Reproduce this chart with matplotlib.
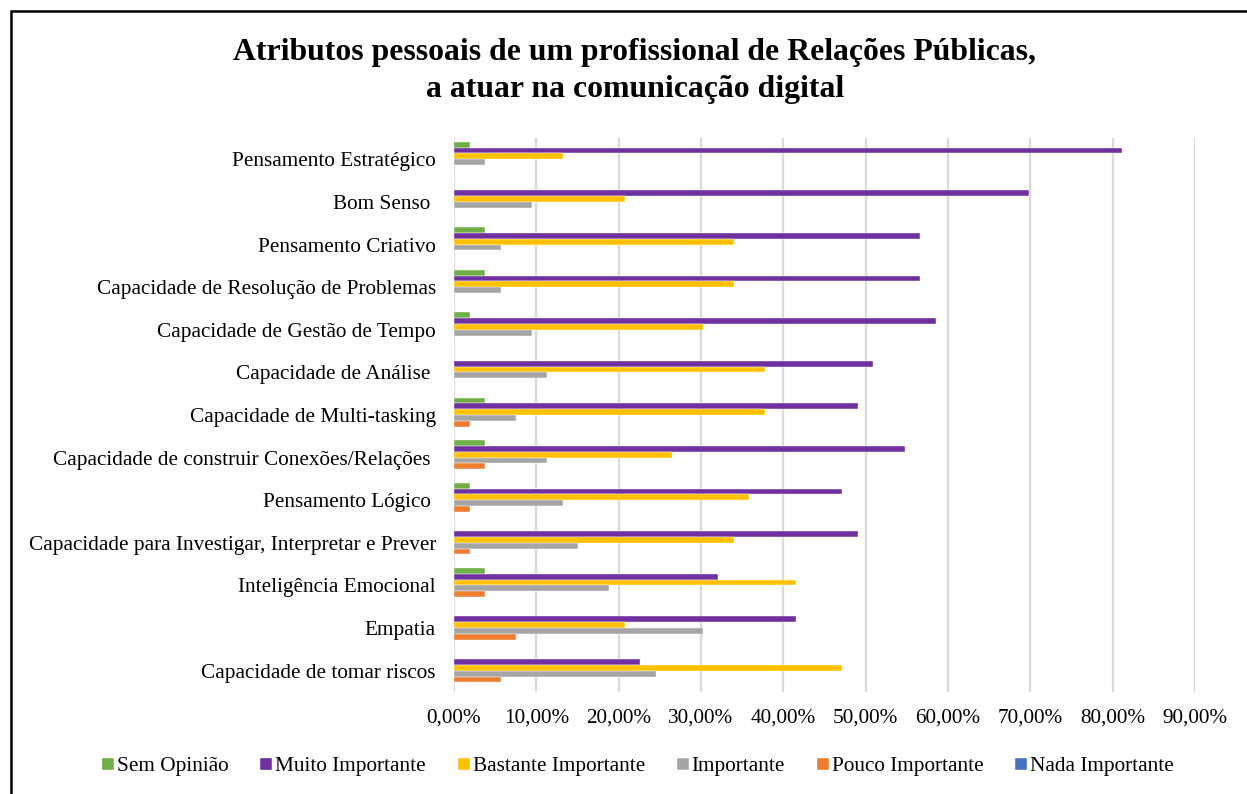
import matplotlib
matplotlib.use("Agg")
import matplotlib.pyplot as plt
import numpy as np
from matplotlib.patches import Rectangle

categories = [
    "Pensamento Estratégico",
    "Bom Senso ",
    "Pensamento Criativo",
    "Capacidade de Resolução de Problemas",
    "Capacidade de Gestão de Tempo",
    "Capacidade de Análise ",
    "Capacidade de Multi-tasking",
    "Capacidade de construir Conexões/Relações ",
    "Pensamento Lógico ",
    "Capacidade para Investigar, Interpretar e Prever",
    "Inteligência Emocional",
    "Empatia",
    "Capacidade de tomar riscos",
]

series_names = ["Sem Opinião", "Muito Importante", "Bastante Importante",
                "Importante", "Pouco Importante", "Nada Importante"]

sem_opiniao = [1.89, 0.00, 3.77, 3.77, 1.89, 0.00, 3.77, 3.77, 1.89, 0.00, 3.77, 0.00, 0.00]
muito_importante = [81.13, 69.81, 56.60, 56.60, 58.49, 50.94, 49.06, 54.72, 47.17, 49.06, 32.08, 41.51, 22.64]
bastante_importante = [13.21, 20.75, 33.96, 33.96, 30.19, 37.74, 37.74, 26.42, 35.85, 33.96, 41.51, 20.75, 47.17]
importante = [3.77, 9.43, 5.66, 5.66, 9.43, 11.32, 7.55, 11.32, 13.21, 15.09, 18.87, 30.19, 24.53]
pouco_importante = [0.00, 0.00, 0.00, 0.00, 0.00, 0.00, 1.89, 3.77, 1.89, 1.89, 3.77, 7.55, 5.66]
nada_importante = [0.00] * 13

tick_values = [0, 10, 20, 30, 40, 50, 60, 70, 80, 90]
tick_labels = ["0,00%", "10,00%", "20,00%", "30,00%", "40,00%",
               "50,00%", "60,00%", "70,00%", "80,00%", "90,00%"]

colors = ["#70AD47", "#7030A0", "#FFC000", "#A5A5A5", "#ED7D31", "#4472C4"]
all_series = [sem_opiniao, muito_importante, bastante_importante,
              importante, pouco_importante, nada_importante]

plt.rcParams['font.family'] = ['Liberation Serif', 'DejaVu Serif']

W, H = 1247, 794
fig = plt.figure(figsize=(W / 100, H / 100), dpi=100)

# axes placement in pixels
x0, x1 = 454, 1195
y_top, y_bot = 138, 692
ax = fig.add_axes([x0 / W, 1 - y_bot / H, (x1 - x0) / W, (y_bot - y_top) / H])

n = len(categories)
k = len(all_series)
ypos = np.arange(n)
group_h = 0.82
bar_h = group_h / k
for i, (vals, col, name) in enumerate(zip(all_series, colors, series_names)):
    offs = -group_h / 2 + bar_h * (i + 0.5)
    ax.barh(ypos + offs, vals, height=bar_h, color=col, label=name,
            edgecolor="white", linewidth=0.3, zorder=3)

fs = 15.3
ax.set_ylim(n - 0.5, -0.5)
ax.set_xlim(0, 90)
ax.set_yticks(ypos)
ax.set_yticklabels(categories, fontsize=fs)
ax.set_xticks(tick_values)
ax.set_xticklabels(tick_labels, fontsize=fs)
ax.tick_params(axis="both", length=0)
ax.tick_params(axis="y", pad=13)
ax.tick_params(axis="x", pad=12)
for s in ax.spines.values():
    s.set_visible(False)
ax.grid(axis="x", color="#D9D9D9", linewidth=1.6, zorder=0)
ax.set_axisbelow(True)

fig.text(0.509, 1 - 71 / H, "Atributos pessoais de um profissional de Relações Públicas,\na atuar na comunicação digital",
         ha="center", va="center", fontsize=22.9, fontweight="bold", linespacing=1.32)

handles, labels = ax.get_legend_handles_labels()
fig.legend(handles, labels, loc="center", bbox_to_anchor=(638 / W, 1 - 767 / H),
           ncol=6, frameon=False, fontsize=fs, handlelength=0.55, handleheight=0.55,
           handletextpad=0.15, columnspacing=1.5)

# outer frame
fig.add_artist(Rectangle((10.5 / W, -0.1), 1.2, 1 - 11 / H + 0.1, transform=fig.transFigure,
                         fill=False, edgecolor="black", linewidth=1.8))

fig.savefig("out.png", dpi=100, facecolor="white")
